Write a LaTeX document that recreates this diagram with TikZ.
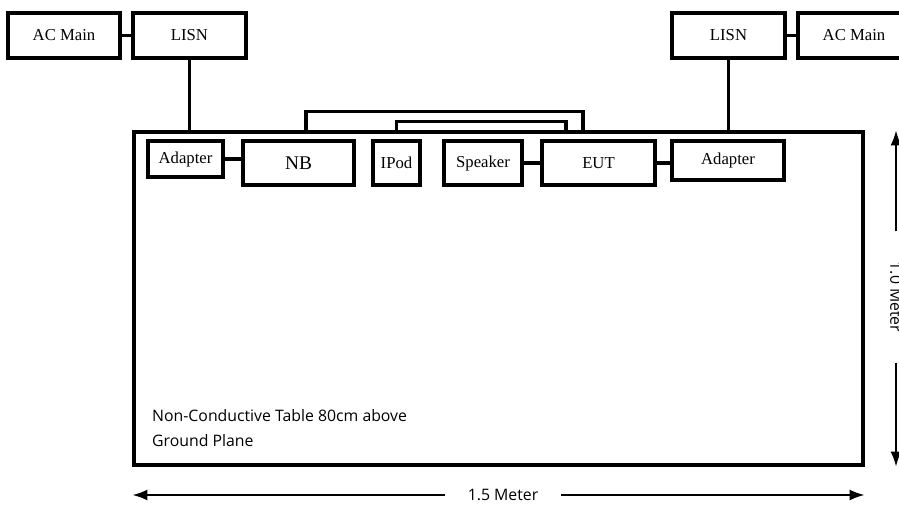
\documentclass[tikz,border=0pt]{standalone}
\usepackage{fontspec}
\setmainfont{Liberation Serif}
\newfontfamily\notefont{Open Sans}
\usetikzlibrary{arrows.meta,positioning}

\begin{document}
\begin{tikzpicture}[
    x=0.02cm, y=-0.02cm,
    every node/.style={font=\fontsize{9.5}{11}\selectfont},
    unit/.style={draw, line width=2pt, inner sep=0pt, minimum height=0.9cm},
    tablebox/.style={draw, line width=2pt, inner sep=0pt, minimum width=14.58cm, minimum height=6.66cm},
    wire/.style={line width=1.8pt},
    dim/.style={-{Latex[length=3mm,width=2.2mm]}, line width=1.3pt},
    note/.style={font=\notefont\fontsize{9}{14}\selectfont, align=left}
]
\clip (0,0) rectangle (899,507);
\useasboundingbox (0,0) rectangle (899,507);

% mains side
\node[unit, minimum width=2.24cm] (acL) at (64,35.5) {AC Main};
\node[unit, minimum width=2.26cm] (lisnL) at (189.5,35.5) {LISN};
\node[unit, minimum width=2.26cm] (lisnR) at (728.5,35.5) {LISN};
\node[unit, minimum width=2.24cm] (acR) at (854,35.5) {AC Main};

% table and units on it
\node[tablebox] (tbl) at (498.5,298.5) {};
\node[unit, minimum width=1.5cm, minimum height=0.72cm] (adL) at (185.5,159) {Adapter};
\node[unit, minimum width=2.22cm, minimum height=0.88cm, font=\fontsize{11}{13}\selectfont] (nb) at (298.5,163) {NB};
\node[unit, minimum width=0.94cm, minimum height=0.88cm] (ipod) at (396.5,163) {IPod};
\node[unit, minimum width=1.56cm, minimum height=0.88cm] (spk) at (483,163) {Speaker};
\node[unit, minimum width=2.26cm, minimum height=0.88cm] (eut) at (598.5,163) {EUT};
\node[unit, minimum width=2.24cm, minimum height=0.78cm] (adR) at (728,160.5) {Adapter};

\node[note, anchor=west] (plane) at (146,428) {Non-Conductive Table 80cm above\\Ground Plane};

% cabling
\draw[wire] (acL) -- (lisnL);
\draw[wire] (lisnR) -- (acR);
\draw[wire] (lisnL.south) -- (lisnL.south |- tbl.north);
\draw[wire] (lisnR.south) -- (lisnR.south |- tbl.north);
\draw[wire] (adL.east) -- (adL.east -| nb.west);
\draw[wire] (spk.east) -- (spk.east -| eut.west);
\draw[wire] (eut.east) -- (eut.east -| adR.west);
\draw[wire] ([xshift=0.15cm,yshift=0.16cm]nb.north) -- ++(0,-20) -| ([xshift=-0.31cm,yshift=0.16cm]eut.north);
\draw[wire] ([yshift=0.16cm]ipod.north) -- ++(0,-10) -| ([xshift=-0.65cm,yshift=0.16cm]eut.north);

% dimensions
\node[font=\notefont\fontsize{9}{10}\selectfont, inner xsep=0.45cm] (wlab) at (503,495) {1.5 Meter};
\draw[dim] (wlab.west) -- (wlab.west -| tbl.west);
\draw[dim] (wlab.east) -- (wlab.east -| tbl.east);
\node[font=\notefont\fontsize{9}{10}\selectfont, inner xsep=0.6cm, rotate=-90] (hlab) at (896,297) {1.0 Meter};
\draw[dim] (hlab.west) -- (hlab.west |- tbl.north);
\draw[dim] (hlab.east) -- (hlab.east |- tbl.south);
\end{tikzpicture}
\end{document}
